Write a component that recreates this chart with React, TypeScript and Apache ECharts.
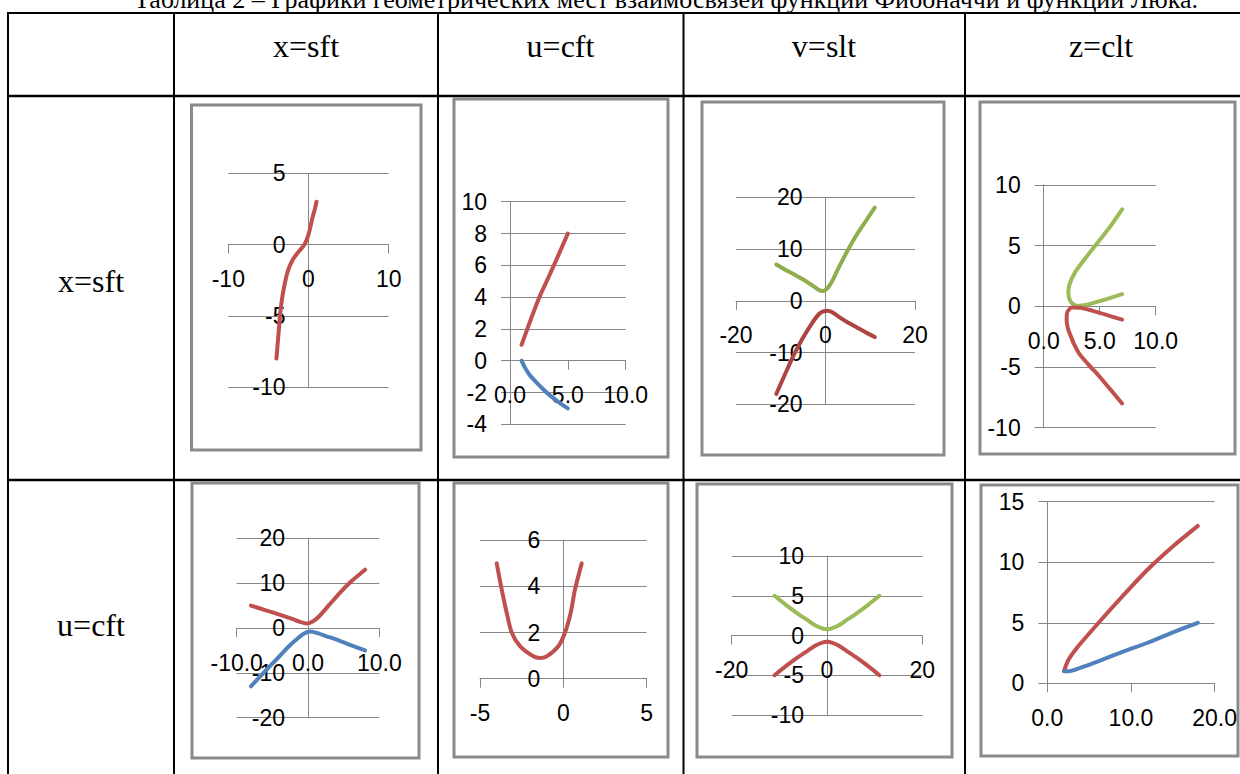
import React, { useEffect, useRef } from "react";
import * as echarts from "echarts";

const TITLE =
  "Таблица 2 – Графики геометрических мест взаимосвязей функций Фибоначчи и функций Люка.";
const COLUMN_HEADERS = ["x=sft", "u=cft", "v=slt", "z=clt"];
const ROW_HEADERS = ["x=sft", "u=cft"];

// ---- series values ----
const c1Red = [[-4, -8], [-3.85, -7], [-3.7, -6], [-3.55, -5], [-3.35, -4], [-3.05, -3], [-2.6, -1.9], [-2.0, -1.1], [-1.3, -0.55], [-0.5, 0.0], [0, 0.7], [0.5, 1.9], [0.8, 2.5], [1, 3]];
const c2Red = [[1, 1], [1.4, 1.8], [1.9, 2.8], [2.6, 4.1], [3.3, 5.2], [4.1, 6.5], [5, 8]];
const c2Blue = [[1, 0], [1.3, -0.45], [1.7, -0.9], [2.2, -1.3], [2.8, -1.75], [3.4, -2.15], [4.2, -2.6], [5, -3]];
const c3Green = [[-11, 7], [-9, 6], [-7, 5.1], [-5, 4.1], [-3, 3.0], [-1.5, 2.1], [-0.5, 1.9], [0.5, 2.5], [1.5, 3.8], [3, 6.5], [5, 9.8], [7, 12.8], [9, 15.4], [11, 18]];
const c3Red = [[-11, -18], [-9, -14.1], [-7, -10.3], [-5, -7.1], [-3, -4.3], [-1.5, -2.6], [-0.5, -2.05], [0.5, -1.9], [1.5, -2.2], [3, -3.1], [5, -4.2], [7, -5.15], [9, -6.1], [11, -7]];
const c4Green = [[7, 8], [5.8, 6.4], [4.6, 5], [3.5, 3.7], [2.8, 2.8], [2.3, 1.8], [2.2, 1.1], [2.4, 0.4], [2.9, 0.05], [3.6, 0.1], [4.3, 0.25], [5.6, 0.6], [7, 1]];
const c4Red = [[7, -1.1], [5.6, -0.7], [4.3, -0.35], [3.3, -0.12], [2.5, -0.1], [2.1, -0.5], [2.05, -1.1], [2.3, -2.2], [3.1, -3.8], [4, -4.8], [4.9, -5.7], [6, -6.9], [7, -8]];
const c5Red = [[-8, 5], [-6, 4], [-4, 3], [-2, 1.9], [-1, 1.3], [-0.2, 1], [0.6, 1.4], [1.5, 2.5], [3, 5.2], [4.5, 7.9], [6, 10.3], [8, 13]];
const c5Blue = [[-8, -13], [-6, -9.6], [-4, -6.3], [-2.5, -3.8], [-1.5, -2.4], [-0.6, -1.3], [0.3, -0.8], [1.2, -1.1], [2.5, -1.8], [4, -2.6], [6, -3.8], [8, -5]];
const c6Red = [[-4, 5], [-3.7, 3.87], [-3.4, 2.86], [-3.1, 2], [-2.6, 1.41], [-1.8, 0.97], [-1.4, 0.9], [-1, 0.97], [-0.3, 1.41], [0.1, 2], [0.44, 2.86], [0.7, 3.87], [1.1, 5]];
const c7Green = [[-11, 5], [-8.5, 3.8], [-6, 2.7], [-4, 1.9], [-2.5, 1.3], [-1, 0.9], [0, 0.8], [1, 0.9], [2.5, 1.3], [4, 1.9], [6, 2.7], [8.5, 3.8], [11, 5]];
const c7Red = [[-11, -5], [-8.5, -3.8], [-6, -2.7], [-4, -1.9], [-2.5, -1.3], [-1, -0.9], [0, -0.8], [1, -0.9], [2.5, -1.3], [4, -1.9], [6, -2.7], [8.5, -3.8], [11, -5]];
const c8Red = [[2, 1], [2.5, 1.9], [3.5, 2.9], [6, 4.9], [9, 7.2], [12, 9.4], [15, 11.3], [18, 13]];
const c8Blue = [[2, 1], [2.6, 1], [4, 1.3], [6, 1.8], [9, 2.6], [12, 3.35], [15, 4.2], [18, 5]];

// ---- axis ranges: [min, max, interval, decimals] ----
const X_RANGES = [[-10, 10, 10, 0], [0, 10, 5, 1], [-20, 20, 20, 0], [0, 10, 5, 1], [-10, 10, 10, 1], [-5, 5, 5, 0], [-20, 20, 20, 0], [0, 20, 10, 1]];
const Y_RANGES = [[-10, 5, 5], [-4, 10, 2], [-20, 20, 10], [-10, 10, 5], [-20, 20, 10], [0, 6, 2], [-10, 10, 5], [0, 15, 5]];

const RED = "#C0504D";
const BLUE = "#4F81BD";
const GREEN = "#9BBB59";
const RED_D = "#AC4542";
const GREEN_D = "#8FAD4C";

const SERIES = [
  [[c1Red, RED]],
  [[c2Red, RED], [c2Blue, BLUE]],
  [[c3Green, GREEN_D], [c3Red, RED_D]],
  [[c4Green, GREEN], [c4Red, RED]],
  [[c5Red, RED], [c5Blue, BLUE]],
  [[c6Red, RED]],
  [[c7Green, GREEN], [c7Red, RED]],
  [[c8Red, RED], [c8Blue, BLUE]],
];

// ---- layout ----
const PLOTS = [
  [228.3, 173.3, 160.4, 213.7],
  [510, 201.7, 115.7, 222.6],
  [736, 197.3, 179, 207],
  [1043.7, 185, 112, 242.7],
  [236.7, 538.3, 142.6, 179.4],
  [480, 540.3, 166.7, 138.4],
  [731.7, 556, 190.6, 159],
  [1047.3, 501.7, 167.7, 181.6],
];
const FRAMES = [
  [191.5, 105, 229.5, 345],
  [454, 99, 214, 358],
  [702, 102, 242, 353],
  [980, 102, 255, 352],
  [192, 483, 227, 275],
  [454, 483, 214, 274],
  [697, 484, 255, 273],
  [981, 485, 257, 271],
];
const COL_X = [8, 174, 438, 683.5, 965];
const ROW_Y = [13, 96, 480];
const COL_CENTERS = [306, 560.5, 824, 1101];
const ROW_CENTERS = [281, 625];

const GRAY = "#868686";
const TICK_FONT = "Liberation Sans";

export default function App() {
  const ref = useRef<HTMLDivElement>(null);
  useEffect(() => {
    if (!ref.current) return;
    const chart = echarts.init(ref.current, null, { renderer: "svg" });
    const labelStyle = { fontSize: 23, color: "#000", fontFamily: TICK_FONT, margin: 23 };
    const graphics: any[] = [];
    COL_X.forEach((x) =>
      graphics.push({ type: "line", shape: { x1: x, y1: 12, x2: x, y2: 774 }, style: { stroke: "#000", lineWidth: 2 } })
    );
    ROW_Y.forEach((y, i) =>
      graphics.push({ type: "line", shape: { x1: 7, y1: y, x2: 1240, y2: y }, style: { stroke: "#000", lineWidth: i === 0 ? 2 : 2.5 } })
    );
    FRAMES.forEach(([x, y, w, h]) =>
      graphics.push({ type: "rect", shape: { x, y, width: w, height: h }, style: { fill: "none", stroke: "#8a8a8a", lineWidth: 3 } })
    );
    graphics.push({
      type: "text", x: 666, y: -1,
      style: { text: TITLE, font: '26px "Liberation Serif"', fill: "#000", align: "center", verticalAlign: "middle", textAlign: "center", textVerticalAlign: "middle" },
    });
    COLUMN_HEADERS.forEach((t, i) =>
      graphics.push({
        type: "text", x: COL_CENTERS[i], y: 46,
        style: { text: t, font: '32px "Liberation Serif"', fill: "#000", align: "center", verticalAlign: "middle", textAlign: "center", textVerticalAlign: "middle" },
      })
    );
    ROW_HEADERS.forEach((t, i) =>
      graphics.push({
        type: "text", x: 91, y: ROW_CENTERS[i],
        style: { text: t, font: '32px "Liberation Serif"', fill: "#000", align: "center", verticalAlign: "middle", textAlign: "center", textVerticalAlign: "middle" },
      })
    );

    const series: any[] = [];
    SERIES.forEach((list, i) =>
      list.forEach(([data, color]) =>
        series.push({
          type: "line", xAxisIndex: i, yAxisIndex: i, data, showSymbol: false, symbol: "none",
          smooth: 0.25, silent: true, z: 3,
          lineStyle: { color, width: 4, cap: "round", join: "round" },
        })
      )
    );

    chart.setOption({
      animation: false,
      backgroundColor: "#fff",
      graphic: { elements: graphics },
      grid: PLOTS.map(([l, t, w, h]) => ({ left: l, top: t, width: w, height: h, containLabel: false })),
      xAxis: X_RANGES.map(([min, max, interval, dec], i) => {
        const [ymin, ymax] = Y_RANGES[i];
        const h = PLOTS[i][3];
        return {
          type: "value", gridIndex: i, min, max, interval, position: "bottom",
          offset: -(h * (0 - ymin)) / (ymax - ymin),
          splitLine: { show: false },
          axisLine: { show: true, onZero: false, lineStyle: { color: GRAY, width: 1 } },
          axisTick: { show: true, inside: false, length: 9, lineStyle: { color: GRAY, width: 1 } },
          axisLabel: { ...labelStyle, formatter: (v: number) => (dec ? v.toFixed(1) : String(v)) },
        };
      }),
      yAxis: Y_RANGES.map(([min, max, interval], i) => {
        const [xmin, xmax] = X_RANGES[i];
        const w = PLOTS[i][2];
        return {
          type: "value", gridIndex: i, min, max, interval, position: "left",
          offset: -(w * (0 - xmin)) / (xmax - xmin),
          splitLine: { show: true, lineStyle: { color: GRAY, width: 1 } },
          axisLine: { show: true, onZero: false, lineStyle: { color: GRAY, width: 1 } },
          axisTick: { show: true, inside: false, length: 9, lineStyle: { color: GRAY, width: 1 } },
          axisLabel: { ...labelStyle, formatter: (v: number) => String(v) },
        };
      }),
      series,
    });
    return () => chart.dispose();
  }, []);
  return <div ref={ref} style={{ position: "absolute", left: 0, top: 0, width: 1240, height: 774 }} />;
}
